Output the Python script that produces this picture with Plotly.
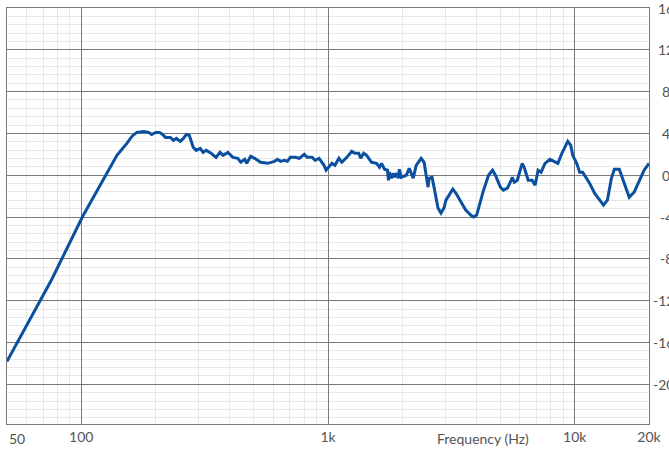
import plotly.graph_objects as go

# Frequency response (Hz, dB)
freq = [50, 67.8, 75.8, 101, 110.7, 126, 139.5, 153, 160.3, 167.9, 179, 187.6, 192.8, 200.1,
        207.6, 213.5, 219.5, 229.8, 236.3, 242.9, 252.1, 259.3, 266.6, 274.1, 284.4, 292.4,
        303.4, 311.9, 320.7, 335.9, 351.8, 365.0, 375.3, 392.9, 411.6, 431.0, 443.2, 459.9,
        468.5, 486.1, 504.4, 533.2, 568.9, 607.0, 624.0, 641.6, 665.8, 684.5, 703.8, 737.1,
        764.8, 801.0, 823.6, 862.5, 886.8, 920.2, 963.6, 981.7, 1009, 1038, 1067, 1107, 1138,
        1192, 1249, 1284, 1332, 1357, 1395, 1434, 1502, 1573, 1617, 1648, 1694, 1742, 1758,
        1775, 1807, 1841, 1858, 1893, 1928, 1946, 1982, 2076, 2135, 2215, 2278, 2385, 2452,
        2544, 2568, 2640, 2690, 2791, 2870, 2951, 3006, 3090, 3206, 3297, 3453, 3616, 3787,
        3894, 4003, 4078, 4271, 4473, 4642, 4772, 4997, 5138, 5333, 5483, 5585, 5689, 5849,
        6125, 6240, 6476, 6721, 6910, 7104, 7304, 7579, 7935, 8313, 8546, 8869, 9118, 9374,
        9637, 9817, 10186, 10474, 10768, 11172, 11486, 12032, 12603, 13078, 13569, 14081,
        14475, 15159, 15876, 16628, 17418, 19103, 20000]
spl = [-17.81, -12.0, -10.0, -4.0, -2.29, 0.1, 1.9, 3.05, 3.71, 4.1, 4.19, 4.1, 3.9, 4.1,
       4.1, 3.9, 3.62, 3.62, 3.33, 3.52, 3.24, 3.52, 3.9, 3.81, 2.67, 2.38,
       2.57, 2.19, 2.38, 2.1, 1.71, 2.19, 1.9, 2.19, 1.71, 1.62, 1.24, 1.52,
       1.14, 1.81, 1.62, 1.24, 1.14, 1.33, 1.52, 1.33, 1.43, 1.33, 1.71, 1.71,
       1.62, 2.0, 1.71, 1.71, 1.43, 1.62, 0.95, 0.48, 0.76, 1.14, 0.95, 1.62, 1.24,
       1.71, 2.29, 2.1, 2.1, 1.62, 2.1, 1.9, 1.24, 1.14, 0.76, 1.14, 0.57, 0.48, -0.48,
       0.29, -0.29, 0.19, -0.19, 0.19, -0.29, 0.57, -0.19, 0.0, 0.67, -0.29, 0.95, 1.62, 1.24,
       -1.14, -0.29, -0.19, -1.14, -3.14, -3.62, -3.14, -2.38, -1.9, -1.33, -1.71, -2.57, -3.33, -3.81,
       -4.0, -3.81, -3.05, -1.43, 0.0, 0.48, 0.0, -1.14, -1.43, -1.24, -0.67, -0.19, -0.67, -0.48,
       1.14, 0.76, -0.48, -0.48, -0.95, 0.48, 0.29, 1.14, 1.52, 1.24, 1.14, 2.1, 2.67, 3.24,
       2.86, 1.9, 1.14, 0.29, 0.29, -0.29, -0.76, -1.71, -2.38, -2.86, -2.38, -0.29,
       0.57, 0.57, -0.76, -2.1, -1.62, 0.48, 1.14]

x_tick_vals = [100, 1000, 10000, 20000]
x_tick_text = ["100", "1k", "10k", "20k"]
x_minor_vals = [60, 70, 80, 90, 200, 300, 400, 500, 600, 700, 800, 900,
                2000, 3000, 4000, 5000, 6000, 7000, 8000, 9000]
y_tick_vals = [16, 12, 8, 4, 0, -4, -8, -12, -16, -20]
y_tick_text = ["16", "12", "8", "4", "0", "-4", "-8", "-12", "-16", "-20"]

FONT = "Lato"
TXT = "#555555"
MAJOR = "#7a7a7a"
MINOR = "#e8e8e8"

fig = go.Figure()
fig.add_trace(go.Scatter(x=freq, y=spl, mode="lines",
                         line=dict(color="#0b50a0", width=3), hoverinfo="skip"))

fig.update_xaxes(type="log", range=[1.69897, 4.30103],
                 tickmode="array", tickvals=x_tick_vals, ticktext=x_tick_text,
                 showgrid=True, gridcolor=MAJOR, gridwidth=1,
                 showline=True, linecolor=MAJOR, linewidth=1, mirror=True,
                 ticks="", tickfont=dict(family=FONT, size=14, color=TXT),
                 minor=dict(tickmode="array", tickvals=x_minor_vals, showgrid=True,
                            gridcolor=MINOR, gridwidth=1, ticks=""),
                 zeroline=False, fixedrange=True)
fig.update_yaxes(range=[-23.8, 16], tickmode="linear", tick0=0, dtick=4,
                 showticklabels=False, showgrid=True, gridcolor=MAJOR, gridwidth=1,
                 showline=True, linecolor=MAJOR, linewidth=1, mirror=True, ticks="",
                 minor=dict(tickmode="linear", tick0=0, dtick=0.8, showgrid=True,
                            gridcolor=MINOR, gridwidth=1, ticks=""),
                 zeroline=False, fixedrange=True)

annotations = []
for v, t in zip(y_tick_vals, y_tick_text):
    annotations.append(dict(x=1.0, xref="paper", y=v, yref="y", text=t,
                            showarrow=False, xanchor="center", yanchor="middle",
                            xshift=17 if len(t) < 3 else 14,
                            font=dict(family=FONT, size=14, color=TXT)))
annotations.append(dict(x=0, xref="paper", y=-0.036, yref="paper", text="50",
                        showarrow=False, xanchor="left", yanchor="middle",
                        font=dict(family=FONT, size=14, color=TXT)))
annotations.append(dict(x=0.741, xref="paper", y=-0.036, yref="paper", text="Frequency (Hz)",
                        showarrow=False, xanchor="center", yanchor="middle",
                        font=dict(family=FONT, size=14, color=TXT)))

fig.update_layout(width=669, height=452, margin=dict(l=7, r=13, t=7, b=27),
                  paper_bgcolor="white", plot_bgcolor="white", showlegend=False,
                  annotations=annotations)

fig.write_html("out.html", config={"displayModeBar": False},
               post_script="document.body.style.margin='0';document.body.style.overflow='hidden';")
